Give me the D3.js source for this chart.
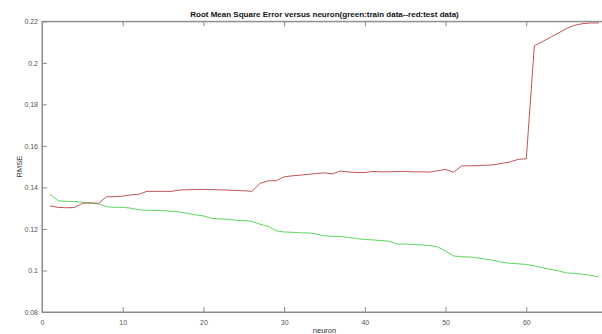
<!DOCTYPE html>
<html><head><meta charset="utf-8">
<script src="https://cdn.jsdelivr.net/npm/d3@7/dist/d3.min.js"></script>
<style>body{margin:0;background:#fff}svg{display:block}</style>
</head><body>
<script>
const neurons = d3.range(1, 70);
const testRMSE = [0.1311,0.1304,0.1302,0.1303,0.1323,0.1326,0.1323,0.1355,0.1355,0.1358,
0.1364,0.1367,0.1381,0.1381,0.1381,0.1381,0.1387,0.1389,0.1390,0.1390,
0.1390,0.1388,0.1387,0.1385,0.1384,0.1381,0.1419,0.1432,0.1432,0.1451,
0.1456,0.1459,0.1463,0.1467,0.1470,0.1465,0.1479,0.1474,0.1472,0.1472,
0.1477,0.1475,0.1475,0.1477,0.1477,0.1475,0.1475,0.1474,0.1480,0.1487,
0.1473,0.1504,0.1504,0.1505,0.1507,0.1509,0.1516,0.1523,0.1535,0.1538,
0.2082,0.2102,0.2123,0.2144,0.2166,0.2181,0.2189,0.2192,0.2192];
const trainRMSE = [0.1368,0.1335,0.1333,0.1332,0.1329,0.1324,0.1321,0.1307,0.1304,0.1304,
0.1300,0.1292,0.1290,0.1289,0.1288,0.1285,0.1282,0.1275,0.1268,0.1263,
0.1251,0.1248,0.1247,0.1242,0.1240,0.1237,0.1223,0.1213,0.1191,0.1185,
0.1184,0.1181,0.1181,0.1175,0.1167,0.1164,0.1164,0.1159,0.1154,0.1149,
0.1147,0.1144,0.1141,0.1127,0.1127,0.1125,0.1123,0.1120,0.1114,0.1093,
0.1070,0.1066,0.1065,0.1061,0.1054,0.1048,0.1039,0.1035,0.1032,0.1029,
0.1022,0.1013,0.1006,0.0998,0.0988,0.0986,0.0982,0.0977,0.0969];
const xTicks = [0,10,20,30,40,50,60];
const yTicks = [0.08,0.1,0.12,0.14,0.16,0.18,0.2,0.22];
const yTickLabels = ["0.08","0.1","0.12","0.14","0.16","0.18","0.2","0.22"];
const title = "Root Mean Square Error versus neuron(green:train data--red:test data)";

const W = 602, H = 334;
const L = 42, R = 607, T = 21.3, B = 312;
const svg = d3.select("body").append("svg").attr("width", W).attr("height", H)
  .style("font-family", "Liberation Sans, Arial, sans-serif");

const x = d3.scaleLinear().domain([0, 70]).range([L, R]);
const y = d3.scaleLinear().domain([0.08, 0.22]).range([B, T]);
const axisCol = "#8a8a8a", textCol = "#555";

svg.append("rect").attr("x", L).attr("y", T).attr("width", R - L).attr("height", B - T)
  .attr("fill", "#fff").attr("stroke", axisCol).attr("stroke-width", 1);

const fmt = v => yTickLabels[yTicks.findIndex(t => Math.abs(t - v) < 1e-9)];
const gx = svg.append("g").attr("transform", `translate(0,${B})`)
  .call(d3.axisBottom(x).tickValues(xTicks).tickSizeInner(-5).tickSizeOuter(0).tickPadding(8));
const gxt = svg.append("g").attr("transform", `translate(0,${T})`)
  .call(d3.axisTop(x).tickValues(xTicks).tickSizeInner(-5).tickSizeOuter(0).tickFormat(""));
const gy = svg.append("g").attr("transform", `translate(${L},0)`)
  .call(d3.axisLeft(y).tickValues(yTicks).tickFormat(fmt).tickSizeInner(-5).tickSizeOuter(0).tickPadding(4));
const gyr = svg.append("g").attr("transform", `translate(${R},0)`)
  .call(d3.axisRight(y).tickValues(yTicks).tickSizeInner(-5).tickSizeOuter(0).tickFormat(""));
[gx, gxt, gy, gyr].forEach(g => {
  g.select(".domain").attr("stroke", axisCol);
  g.selectAll(".tick line").attr("stroke", axisCol);
  g.selectAll("text").attr("fill", textCol).style("font-size", "7px").style("font-family", "Liberation Sans, Arial, sans-serif");
});

const line = d3.line().x((d, i) => x(neurons[i])).y(d => y(d));
svg.append("path").datum(trainRMSE).attr("d", line).attr("fill", "none")
  .attr("stroke", "#5ed65e").attr("stroke-width", 1);
svg.append("path").datum(testRMSE).attr("d", line).attr("fill", "none")
  .attr("stroke", "#c05656").attr("stroke-width", 1);

svg.append("text").attr("x", (L + R) / 2).attr("y", 16.5).attr("text-anchor", "middle")
  .style("font-size", "8px").style("font-weight", "bold").attr("fill", "#111").text(title);
svg.append("text").attr("x", (L + R) / 2).attr("y", 333).attr("text-anchor", "middle")
  .style("font-size", "7.5px").attr("fill", "#333").text("neuron");
svg.append("text").attr("transform", `translate(22,${(T + B) / 2}) rotate(-90)`).attr("text-anchor", "middle")
  .style("font-size", "7.5px").attr("fill", "#333").text("RMSE");
</script>
</body></html>
